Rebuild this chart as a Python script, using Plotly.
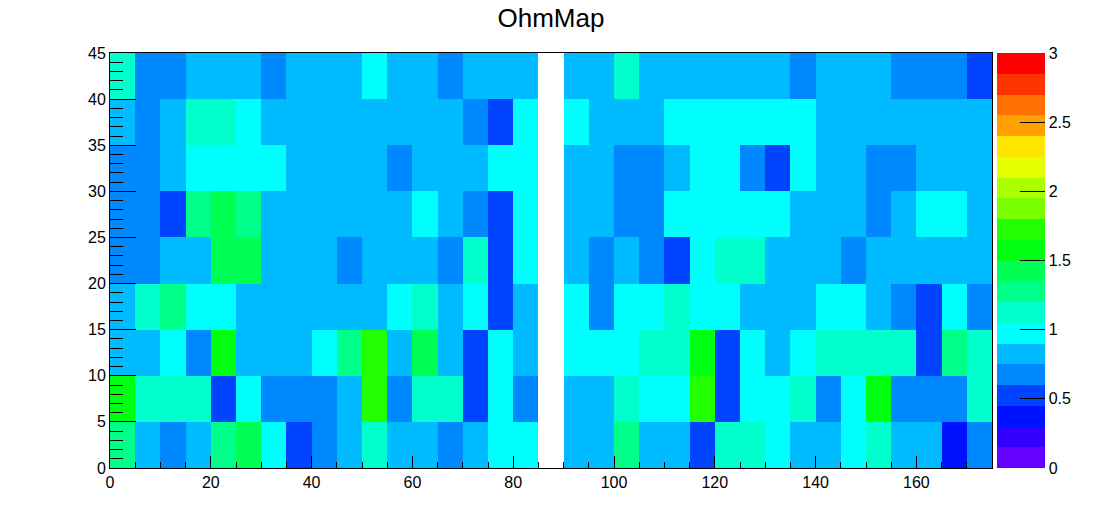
import plotly.graph_objects as go

# Bin edges
x_edges = list(range(0, 180, 5))   # 0..175, 35 bins
y_edges = list(range(0, 50, 5))    # 0..45, 9 bins

# Cell values (resistance, Ohm) per row, column index 0..34 (x bins); None = empty bin
ohm_y00 = [1.28, 0.83, 0.68, 0.83, 1.28, 1.43, 0.98, 0.53, 0.68, 0.83, 1.13, 0.83, 0.83, 0.68, 0.83, 0.98, 0.98, None,
           0.83, 0.83, 1.28, 0.83, 0.83, 0.53, 1.13, 1.13, 0.98, 0.83, 0.83, 0.98, 1.13, 0.83, 0.83, 0.38, 0.68]
ohm_y05 = [1.58, 1.13, 1.13, 1.13, 0.53, 0.98, 0.68, 0.68, 0.68, 0.83, 1.73, 0.68, 1.13, 1.13, 0.53, 0.98, 0.68, None,
           0.83, 0.83, 1.13, 0.98, 0.98, 1.73, 0.53, 0.98, 0.98, 1.13, 0.68, 0.98, 1.58, 0.68, 0.68, 0.68, 1.13]
ohm_y10 = [0.83, 0.83, 0.98, 0.68, 1.58, 0.83, 0.83, 0.83, 0.98, 1.28, 1.73, 0.83, 1.43, 0.83, 0.53, 0.98, 0.83, None,
           0.98, 0.98, 0.98, 1.13, 1.13, 1.58, 0.53, 0.98, 0.83, 0.98, 1.13, 1.13, 1.13, 1.13, 0.53, 1.28, 1.13]
ohm_y15 = [0.83, 1.13, 1.28, 0.98, 0.98, 0.83, 0.83, 0.83, 0.83, 0.83, 0.83, 0.98, 1.13, 0.83, 0.98, 0.53, 0.83, None,
           0.98, 0.68, 0.98, 0.98, 1.13, 0.98, 0.98, 0.83, 0.83, 0.83, 0.98, 0.98, 0.83, 0.68, 0.53, 0.98, 0.68]
ohm_y20 = [0.68, 0.68, 0.83, 0.83, 1.43, 1.43, 0.83, 0.83, 0.83, 0.68, 0.83, 0.83, 0.83, 0.68, 1.13, 0.53, 0.98, None,
           0.83, 0.68, 0.83, 0.68, 0.53, 0.98, 1.13, 1.13, 0.83, 0.83, 0.83, 0.68, 0.83, 0.83, 0.83, 0.83, 0.83]
ohm_y25 = [0.68, 0.68, 0.53, 1.28, 1.43, 1.28, 0.83, 0.83, 0.83, 0.83, 0.83, 0.83, 0.98, 0.83, 0.68, 0.53, 0.98, None,
           0.83, 0.83, 0.68, 0.68, 0.98, 0.98, 0.98, 0.98, 0.98, 0.83, 0.83, 0.83, 0.68, 0.83, 0.98, 0.98, 0.83]
ohm_y30 = [0.68, 0.68, 0.83, 0.98, 0.98, 0.98, 0.98, 0.83, 0.83, 0.83, 0.83, 0.68, 0.83, 0.83, 0.83, 0.98, 0.98, None,
           0.83, 0.83, 0.68, 0.68, 0.83, 0.98, 0.98, 0.68, 0.53, 0.98, 0.83, 0.83, 0.68, 0.68, 0.83, 0.83, 0.83]
ohm_y35 = [0.83, 0.68, 0.83, 1.13, 1.13, 0.98, 0.83, 0.83, 0.83, 0.83, 0.83, 0.83, 0.83, 0.83, 0.68, 0.53, 0.98, None,
           0.98, 0.83, 0.83, 0.83, 0.98, 0.98, 0.98, 0.98, 0.98, 0.98, 0.83, 0.83, 0.83, 0.83, 0.83, 0.83, 0.83]
ohm_y40 = [1.13, 0.68, 0.68, 0.83, 0.83, 0.83, 0.68, 0.83, 0.83, 0.83, 0.98, 0.83, 0.83, 0.68, 0.83, 0.83, 0.83, None,
           0.83, 0.83, 1.13, 0.83, 0.83, 0.83, 0.83, 0.83, 0.83, 0.68, 0.83, 0.83, 0.83, 0.68, 0.68, 0.68, 0.53]

z_rows = [ohm_y00, ohm_y05, ohm_y10, ohm_y15, ohm_y20, ohm_y25, ohm_y30, ohm_y35, ohm_y40]

# Palette: 20 contour levels between 0 and 3
palette = ["#6600ff", "#3300ff", "#0011ff", "#0044ff", "#0088ff", "#00bbff", "#00ffff", "#00ffcc",
           "#00ff88", "#00ff55", "#00ff11", "#22ff00", "#77ff00", "#aaff00", "#e6ff00", "#ffe600",
           "#ffa000", "#ff7000", "#ff3300", "#ff0000"]
z_min, z_max = 0, 3
colorbar_ticks = [0, 0.5, 1, 1.5, 2, 2.5, 3]
x_ticks = [0, 20, 40, 60, 80, 100, 120, 140, 160]
y_ticks = [0, 5, 10, 15, 20, 25, 30, 35, 40, 45]

n = len(palette)
colorscale = []
for i, c in enumerate(palette):
    colorscale.append([i / n, c])
    colorscale.append([(i + 1) / n, c])

W, H = 1102, 522
L_M, R_M, T_M, B_M = 110, 110, 53, 54
plot_w = W - L_M - R_M

font = "Liberation Sans, Arial, Helvetica, sans-serif"

fig = go.Figure(go.Heatmap(
    x=x_edges, y=y_edges, z=z_rows,
    zmin=z_min, zmax=z_max, colorscale=colorscale,
    hoverongaps=False,
    colorbar=dict(
        x=(997 - L_M) / plot_w, xanchor="left", xpad=0,
        y=0.5, yanchor="middle", len=1, lenmode="fraction", ypad=0,
        thickness=48, thicknessmode="pixels",
        outlinewidth=0,
        tickmode="array", tickvals=colorbar_ticks,
        ticktext=[str(v) for v in colorbar_ticks],
        ticks="inside", ticklen=25, tickwidth=1, tickcolor="black",
        tickfont=dict(family=font, size=16, color="black"),
    ),
))

fig.update_layout(
    width=W, height=H,
    margin=dict(l=L_M, r=R_M, t=T_M, b=B_M, autoexpand=False),
    paper_bgcolor="white", plot_bgcolor="white",
    title=dict(text="OhmMap", x=0.5, xanchor="center", xref="paper",
               y=1 - 18 / H, yanchor="middle", yref="container",
               font=dict(family=font, size=26, color="black")),
    font=dict(family=font, color="black"),
)

fig.update_xaxes(
    range=[0, 175], showgrid=False, zeroline=False,
    showline=True, linecolor="black", linewidth=1, mirror=True,
    tickmode="array", tickvals=x_ticks,
    ticks="inside", ticklen=12, tickwidth=1, tickcolor="black",
    minor=dict(dtick=5, tick0=0, ticks="inside", ticklen=6, tickwidth=1, tickcolor="black", showgrid=False),
    tickfont=dict(family=font, size=16, color="black"),
)
fig.update_yaxes(
    range=[0, 45], showgrid=False, zeroline=False,
    showline=True, linecolor="black", linewidth=1, mirror=True,
    tickmode="array", tickvals=y_ticks,
    ticks="inside", ticklen=26, tickwidth=1, tickcolor="black",
    minor=dict(dtick=1, tick0=0, ticks="inside", ticklen=13, tickwidth=1, tickcolor="black", showgrid=False),
    tickfont=dict(family=font, size=16, color="black"),
)

fig.write_html("out.html", config={"displayModeBar": False},
               post_script="document.body.style.margin='0';")
